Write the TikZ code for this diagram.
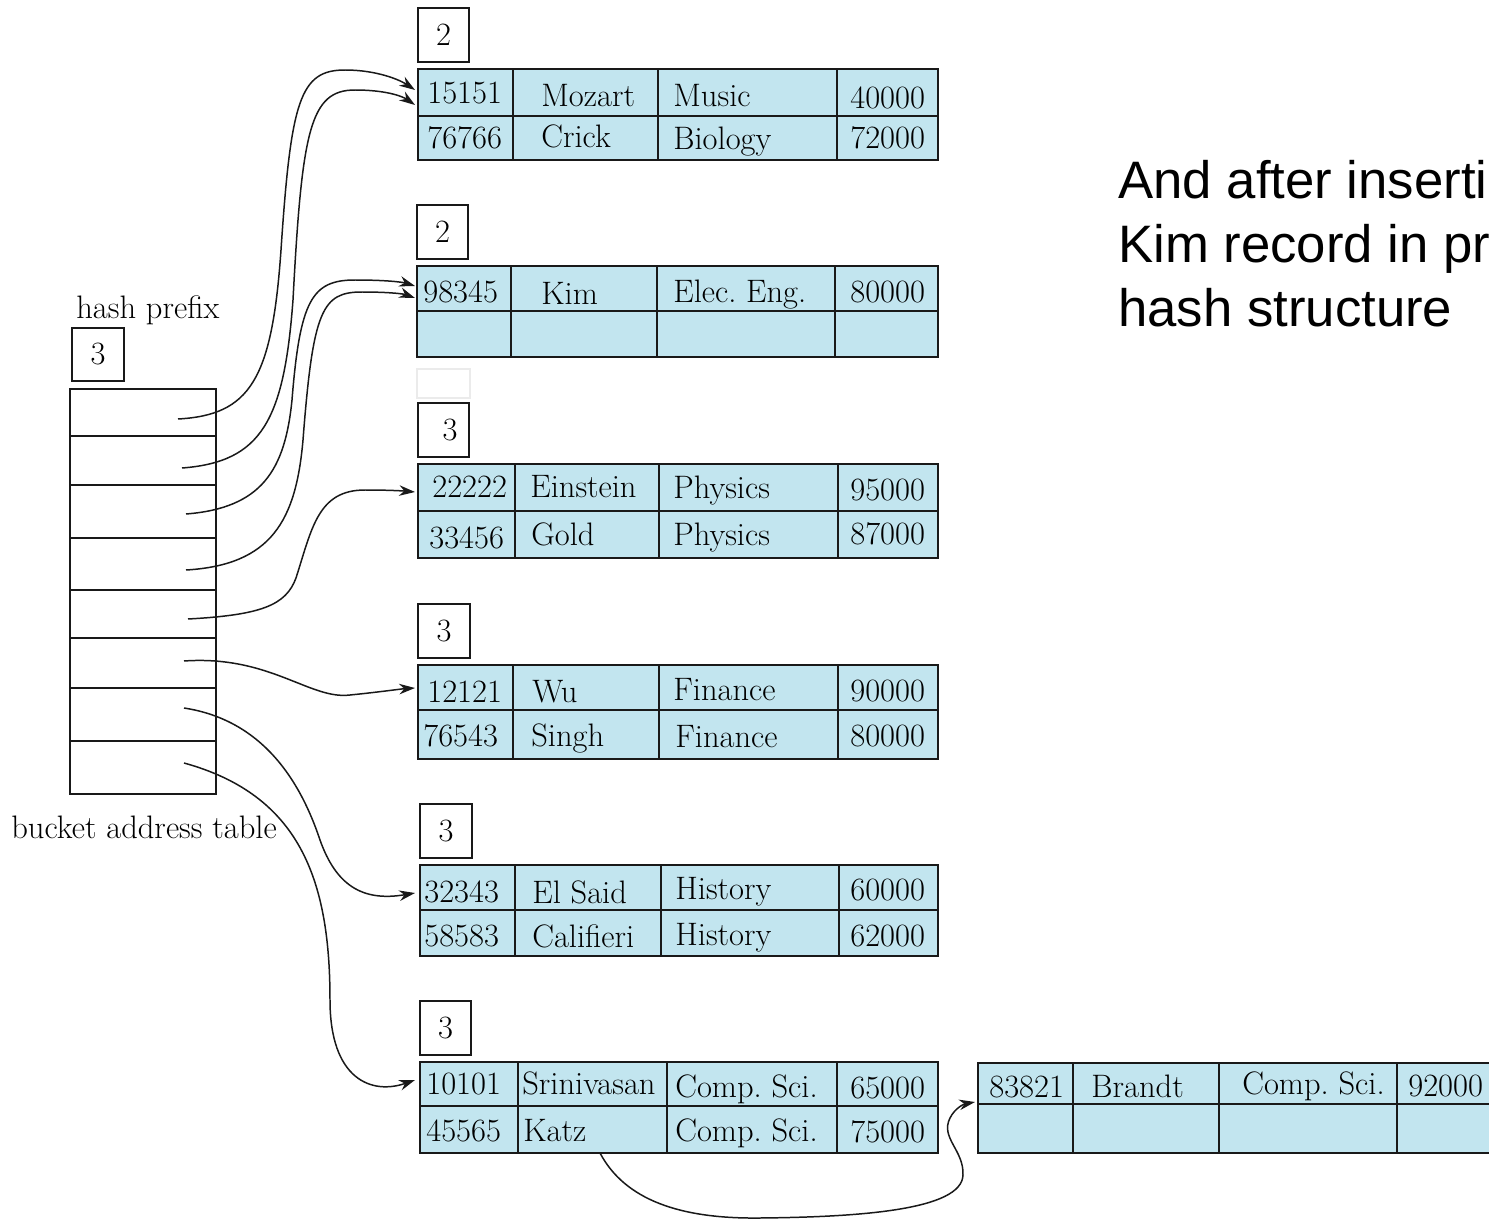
\documentclass[tikz,border=0pt]{standalone}
\usepackage{fontspec}
\newfontfamily\sansf{Liberation Sans}
\usetikzlibrary{arrows.meta}
\definecolor{cellblue}{RGB}{194,229,239}
\frenchspacing
\newcommand\bucketgrid[9]{%
  \draw[tbl] (#2,#3) rectangle (#9,#5);
  \draw[grid] (#2,#4) -- (#9,#4) (#6,#3) -- (#6,#5) (#7,#3) -- (#7,#5) (#8,#3) -- (#8,#5);
  \coordinate (#1) at (#2,#3);}
\newcommand\depthnum[6]{%
  \draw[depthbox] (#2,#3) rectangle (#4,#5);
  \node[num] (#1) at ({(#2+#4)/2},{(#3+#5)/2}) {#6};}
\begin{document}
\begin{tikzpicture}[x=0.02cm,y=-0.02cm,
  tbl/.style={draw=black!90, line width=1.15pt, fill=cellblue},
  grid/.style={draw=black!90, line width=1.15pt},
  depthbox/.style={draw=black!90, line width=1.15pt, fill=white},
  ctext/.style={anchor=base west, inner sep=0pt, font=\fontsize{18.5}{22}\selectfont\frenchspacing},
  num/.style={inner sep=0pt, font=\fontsize{18.5}{22}\selectfont},
  ptr/.style={draw=black!90, line width=0.85pt, -{Stealth[length=9pt,width=6pt]}},
  note/.style={anchor=base west, inner sep=0pt, font=\sansf\fontsize{30}{36}\selectfont}]
\useasboundingbox (0,0) rectangle (1489,1220);
\fill[white] (0,0) rectangle (1489,1220);
\begin{scope}
\clip (0,0) rectangle (1489,1220);

% ---------- hash prefix & bucket address table ----------
\node[ctext] (hp) at (76,318) {hash prefix};
\depthnum{gd}{72}{328}{124}{381}{3}
\draw[grid, fill=white] (70,389) rectangle (216,794);
\draw[grid] (70,436) -- (216,436) (70,485) -- (216,485) (70,538) -- (216,538)
  (70,590) -- (216,590) (70,638) -- (216,638) (70,688) -- (216,688) (70,741) -- (216,741);
\node[ctext] (bat) at (11,838) {bucket address table};

% ---------- bucket 1 ----------
\depthnum{d1}{418}{8}{469}{62}{2}
\bucketgrid{B1}{418}{69}{116}{160}{513}{658}{837}{938}
\node[ctext] (b1a) at (427,104) {15151};
\node[ctext] (b1b) at (541,107) {Mozart};
\node[ctext] (b1c) at (673,107) {Music};
\node[ctext] (b1d) at (850,109) {40000};
\node[ctext] (b1e) at (427,149) {76766};
\node[ctext] (b1f) at (541,148) {Crick};
\node[ctext] (b1g) at (673,150) {Biology};
\node[ctext] (b1h) at (850,149) {72000};

% ---------- bucket 2 ----------
\depthnum{d2}{417}{205}{468}{259}{2}
\bucketgrid{B2}{417}{266}{311}{357}{511}{657}{835}{938}
\node[ctext] (b2a) at (423,302) {98345};
\node[ctext] (b2b) at (541,304) {Kim};
\node[ctext] (b2c) at (673,302) {Elec. Eng.};
\node[ctext] (b2d) at (850,302) {80000};

% faint trace
\draw[black!8, line width=0.6pt] (417,369) rectangle (470,398);

% ---------- bucket 3 ----------
\draw[depthbox] (418,403) rectangle (469,457);
\node[num] (d3) at (450,430) {3};
\bucketgrid{B3}{418}{464}{511}{558}{515}{659}{838}{938}
\node[ctext] (b3a) at (432,497) {22222};
\node[ctext] (b3b) at (530,497) {Einstein};
\node[ctext] (b3c) at (673,498) {Physics};
\node[ctext] (b3d) at (850,500) {95000};
\node[ctext] (b3e) at (429,548) {33456};
\node[ctext] (b3f) at (531,545) {Gold};
\node[ctext] (b3g) at (673,545) {Physics};
\node[ctext] (b3h) at (850,544) {87000};

% ---------- bucket 4 ----------
\depthnum{d4}{418}{604}{470}{658}{3}
\bucketgrid{B4}{418}{665}{710}{759}{513}{659}{838}{938}
\node[ctext] (b4a) at (427,702) {12121};
\node[ctext] (b4b) at (532,702) {Wu};
\node[ctext] (b4c) at (673,700) {Finance};
\node[ctext] (b4d) at (850,701) {90000};
\node[ctext] (b4e) at (423,746) {76543};
\node[ctext] (b4f) at (531,746) {Singh};
\node[ctext] (b4g) at (675,747) {Finance};
\node[ctext] (b4h) at (850,746) {80000};

% ---------- bucket 5 ----------
\depthnum{d5}{420}{804}{472}{858}{3}
\bucketgrid{B5}{420}{865}{910}{956}{515}{661}{839}{938}
\node[ctext] (b5a) at (424,902) {32343};
\node[ctext] (b5b) at (532,903) {El Said};
\node[ctext] (b5c) at (675,899) {History};
\node[ctext] (b5d) at (850,900) {60000};
\node[ctext] (b5e) at (424,946) {58583};
\node[ctext] (b5f) at (532,947) {Califieri};
\node[ctext] (b5g) at (675,945) {History};
\node[ctext] (b5h) at (850,946) {62000};

% ---------- bucket 6 ----------
\depthnum{d6}{420}{1001}{471}{1055}{3}
\bucketgrid{B6}{420}{1062}{1106}{1153}{518}{667}{837}{938}
\node[ctext] (b6a) at (426,1094) {10101};
\node[ctext] (b6b) at (522,1094) {Srinivasan};
\node[ctext] (b6c) at (675,1097) {Comp. Sci.};
\node[ctext] (b6d) at (850,1098) {65000};
\node[ctext] (b6e) at (426,1141) {45565};
\node[ctext] (b6f) at (523,1141) {Katz};
\node[ctext] (b6g) at (675,1141) {Comp. Sci.};
\node[ctext] (b6h) at (850,1142) {75000};

% ---------- overflow bucket ----------
\bucketgrid{B7}{978}{1063}{1104}{1153}{1073}{1219}{1397}{1500}
\node[ctext] (b7a) at (989,1097) {83821};
\node[ctext] (b7b) at (1091,1097) {Brandt};
\node[ctext] (b7c) at (1242,1094) {Comp. Sci.};
\node[ctext] (b7d) at (1408,1096) {92000};

% ---------- note ----------
\node[note] (n1) at (1118,198) {And after inserti};
\node[note] (n2) at (1118,262) {Kim record in pr};
\node[note] (n3) at (1118,326) {hash structure};

% ---------- pointers ----------
\coordinate (p1) at (178,419);
\coordinate (p2) at (182,468);
\coordinate (p3) at (186,514);
\coordinate (p4) at (186,570);
\coordinate (p5) at (188,619);
\coordinate (p6) at (184,661);
\coordinate (p7) at (184,708);
\coordinate (p8) at (184,763);
\coordinate (p9) at (600,1153);
\coordinate (e1) at (415,90);
\coordinate (e2) at (415,105);
\coordinate (e3) at (415,286);
\coordinate (e4) at (415,298);
\coordinate (e5) at (415,492);
\coordinate (e6) at (415,688);
\coordinate (e7) at (415,893);
\coordinate (e8) at (415,1080);
\coordinate (e9) at (975,1102);

\draw[ptr] (p1) .. controls (250,415) and (272,380) .. (281,250)
  .. controls (291,100) and (300,70) .. (345,70)
  .. controls (377,70) and (400,80) .. (e1);
\draw[ptr] (p2) .. controls (262,462) and (284,420) .. (293,300)
  .. controls (302,130) and (310,90) .. (355,90)
  .. controls (385,90) and (402,96) .. (e2);
\draw[ptr] (p3) .. controls (262,508) and (285,470) .. (292,400)
  .. controls (300,300) and (312,280) .. (355,280)
  .. controls (385,280) and (402,282) .. (e3);
\draw[ptr] (p4) .. controls (272,565) and (296,520) .. (303,440)
  .. controls (313,310) and (322,292) .. (362,292)
  .. controls (390,292) and (404,294) .. (e4);
\draw[ptr] (p5) .. controls (262,615) and (286,605) .. (296,578)
  .. controls (312,528) and (318,490) .. (365,490)
  .. controls (390,490) and (404,491) .. (e5);
\draw[ptr] (p6) .. controls (270,655) and (310,700) .. (350,695)
  .. controls (380,692) and (400,689) .. (e6);
\draw[ptr] (p7) .. controls (262,720) and (300,780) .. (320,840)
  .. controls (336,885) and (362,902) .. (e7);
\draw[ptr] (p8) .. controls (300,795) and (330,880) .. (330,1000)
  .. controls (330,1080) and (372,1095) .. (e8);
\draw[ptr] (p9) .. controls (625,1200) and (680,1219) .. (760,1218)
  .. controls (860,1217) and (962,1210) .. (963,1175)
  .. controls (964,1150) and (940,1138) .. (950,1118)
  .. controls (955,1108) and (964,1104) .. (e9);
\end{scope}
\end{tikzpicture}
\end{document}
